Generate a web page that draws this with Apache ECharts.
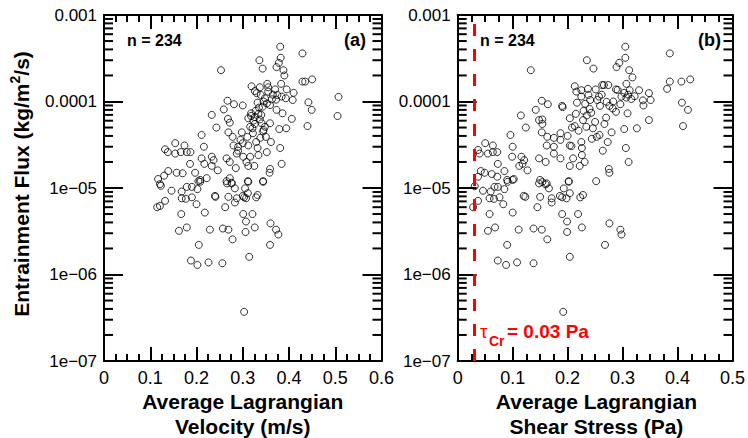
<!DOCTYPE html>
<html><head><meta charset="utf-8">
<script src="https://cdn.jsdelivr.net/npm/echarts@6/dist/echarts.min.js"></script>
<style>html,body{margin:0;padding:0;background:#fff}#c{width:748px;height:438px}</style>
</head><body><div id="c"></div>
<script>
// Panel (a): average Lagrangian velocity (m/s) vs entrainment flux (kg/m2/s)
const velocity = [0.381,0.429,0.382,0.336,0.378,0.343,0.373,0.253,0.388,0.390,0.450,0.429,0.435,0.353,0.383,0.319,0.337,0.355,0.370,0.395,
0.410,0.326,0.339,0.375,0.384,0.393,0.408,0.348,0.363,0.442,0.507,0.267,0.281,0.300,0.332,0.343,0.359,0.373,0.386,0.449,
0.259,0.318,0.334,0.326,0.233,0.268,0.272,0.312,0.406,0.505,0.323,0.341,0.316,0.321,0.243,0.348,0.359,0.379,0.394,0.440,
0.211,0.269,0.278,0.298,0.344,0.350,0.361,0.329,0.295,0.280,0.312,0.290,0.216,0.332,0.381,0.132,0.154,0.174,0.138,0.154,
0.166,0.179,0.187,0.265,0.287,0.301,0.316,0.334,0.352,0.211,0.233,0.237,0.217,0.233,0.246,0.272,0.312,0.325,0.384,0.359,
0.358,0.186,0.139,0.157,0.170,0.130,0.117,0.121,0.197,0.208,0.204,0.222,0.272,0.276,0.265,0.311,0.344,0.123,0.146,0.179,
0.190,0.202,0.208,0.168,0.168,0.177,0.190,0.200,0.115,0.121,0.132,0.240,0.241,0.218,0.167,0.162,0.179,0.205,0.188,0.202,
0.226,0.256,0.229,0.257,0.269,0.278,0.262,0.269,0.283,0.266,0.276,0.300,0.303,0.307,0.283,0.287,0.311,0.305,0.312,0.329,
0.332,0.344,0.301,0.321,0.307,0.326,0.306,0.360,0.372,0.377,0.359,0.314,0.303,
0.330,0.345,0.352,0.335,0.328,0.340,0.318,0.337,0.326,0.345,0.355,0.365,0.372,0.310,0.322,0.300,0.290,0.338,0.308,0.285];
const fluxA = [4.3e-4,3.6e-4,3.2e-4,3.0e-4,2.8e-4,2.4e-4,2.5e-4,2.3e-4,2.3e-4,2.0e-4,1.8e-4,1.7e-4,1.7e-4,1.6e-4,1.6e-4,1.5e-4,1.46e-4,1.46e-4,1.38e-4,1.38e-4,
1.26e-4,1.32e-4,1.19e-4,1.19e-4,1.14e-4,1.09e-4,1.04e-4,1.09e-4,1.06e-4,9.8e-5,1.13e-4,1.02e-4,9.3e-5,9.0e-5,9.7e-5,8.7e-5,9.1e-5,8.0e-5,7.3e-5,8.0e-5,
8.1e-5,7.3e-5,7.2e-5,6.6e-5,7.0e-5,6.3e-5,5.7e-5,6.4e-5,6.3e-5,6.8e-5,6.0e-5,5.6e-5,5.1e-5,4.9e-5,5.0e-5,5.1e-5,5.6e-5,4.8e-5,4.9e-5,5.2e-5,
4.1e-5,4.4e-5,3.9e-5,4.4e-5,4.5e-5,3.9e-5,3.4e-5,3.4e-5,3.6e-5,3.1e-5,3.1e-5,3.0e-5,3.0e-5,2.9e-5,2.9e-5,2.8e-5,3.3e-5,3.1e-5,2.6e-5,2.5e-5,
2.6e-5,2.6e-5,2.6e-5,2.2e-5,2.5e-5,2.3e-5,2.3e-5,2.4e-5,2.6e-5,2.2e-5,2.3e-5,2.1e-5,1.9e-5,1.8e-5,1.6e-5,2.0e-5,1.8e-5,1.8e-5,1.9e-5,1.66e-5,
1.5e-5,1.9e-5,1.57e-5,1.5e-5,1.48e-5,1.39e-5,1.27e-5,1.11e-5,1.5e-5,1.24e-5,1.2e-5,1.3e-5,1.3e-5,1.15e-5,1.2e-5,1.2e-5,1.2e-5,1.06e-5,9.3e-6,1.03e-5,
1.03e-5,9.7e-6,1.18e-5,9.1e-6,7.6e-6,7.5e-6,7.8e-6,6.5e-6,6.0e-6,6.2e-6,7.1e-6,8.1e-6,7.9e-6,5.2e-6,5.0e-6,3.2e-6,3.5e-6,2.2e-6,1.45e-6,1.29e-6,
1.38e-6,1.35e-6,3.3e-6,3.4e-6,3.3e-6,2.55e-6,6.0e-6,7.9e-6,9.9e-6,1.13e-5,1.13e-5,8.1e-6,7.8e-6,7.6e-6,6.8e-6,7.6e-6,8.7e-6,9.9e-6,1.18e-5,7.8e-6,
8.3e-6,1.18e-5,5.0e-6,5.0e-6,4.1e-6,3.5e-6,3.1e-6,3.9e-6,3.3e-6,2.9e-6,2.2e-6,1.6e-6,3.7e-7,
1.25e-4,1.0e-4,9.5e-5,8.5e-5,7.8e-5,7.0e-5,6.8e-5,6.2e-5,5.5e-5,4.7e-5,1.3e-4,1.2e-4,1.05e-4,3.9e-5,4.3e-5,3.3e-5,2.7e-5,3.8e-5,2.0e-5,1.7e-5];

// Panel (b): average Lagrangian shear stress (Pa) vs entrainment flux
const shearStress = [0.305,0.305,0.386,0.235,0.294,0.289,0.247,0.312,0.133,0.318,0.307,0.386,0.407,0.423,0.381,0.213,0.216,0.225,0.237,0.251,
0.263,0.266,0.274,0.288,0.291,0.303,0.313,0.330,0.348,0.225,0.238,0.257,0.298,0.316,0.307,0.337,0.351,0.153,0.164,0.190,
0.191,0.217,0.232,0.241,0.254,0.259,0.271,0.276,0.282,0.288,0.142,0.408,0.419,0.309,0.115,0.229,0.235,0.243,0.148,0.154,
0.154,0.204,0.208,0.213,0.220,0.234,0.246,0.253,0.267,0.303,0.326,0.348,0.410,0.124,0.096,0.153,0.163,0.175,0.187,0.162,
0.175,0.187,0.204,0.207,0.225,0.226,0.264,0.273,0.306,0.100,0.037,0.040,0.050,0.055,0.064,0.064,0.072,0.175,0.187,0.099,
0.116,0.121,0.073,0.112,0.118,0.127,0.148,0.160,0.204,0.210,0.222,0.226,0.231,0.275,0.276,0.311,0.042,0.049,0.062,0.072,
0.085,0.090,0.102,0.037,0.150,0.160,0.154,0.202,0.252,0.031,0.046,0.060,0.067,0.073,0.085,0.058,0.066,0.076,0.037,0.028,
0.083,0.058,0.100,0.055,0.068,0.090,0.073,0.088,0.108,0.138,0.111,0.138,0.153,0.163,0.145,0.120,0.123,0.150,0.166,0.148,
0.162,0.186,0.190,0.198,0.171,0.171,0.193,0.204,0.202,0.223,0.228,0.190,0.219,0.199,0.226,0.199,0.276,0.296,0.298,0.268,
0.204,0.192,0.091,0.100,
0.262,0.283,0.296,0.240,0.228,0.270,0.310,0.322,0.215,0.250,0.280,0.200,0.244,0.258,0.338];
const fluxB = [4.3e-4,3.2e-4,3.6e-4,3.0e-4,2.8e-4,2.5e-4,2.4e-4,2.3e-4,2.3e-4,1.9e-4,1.6e-4,1.7e-4,1.7e-4,1.8e-4,1.4e-4,1.5e-4,1.3e-4,1.35e-4,1.4e-4,1.38e-4,
1.55e-4,1.55e-4,1.55e-4,1.38e-4,1.36e-4,1.26e-4,1.35e-4,1.35e-4,1.25e-4,1.14e-4,1.19e-4,1.14e-4,1.14e-4,1.07e-4,1.11e-4,1.03e-4,1.04e-4,1.02e-4,9.3e-5,8.9e-5,
8.6e-5,9.7e-5,9.4e-5,1.04e-4,1.04e-4,8.9e-5,9.9e-5,8.9e-5,8.3e-5,7.6e-5,8.0e-5,9.7e-5,8.0e-5,7.3e-5,6.9e-5,7.8e-5,6.9e-5,7.4e-5,6.1e-5,6.2e-5,
5.5e-5,6.4e-5,5.0e-5,5.2e-5,4.6e-5,5.1e-5,4.9e-5,3.9e-5,5.5e-5,4.8e-5,4.9e-5,6.1e-5,5.2e-5,5.0e-5,4.1e-5,4.4e-5,3.9e-5,3.8e-5,4.3e-5,3.1e-5,
3.0e-5,3.6e-5,3.1e-5,3.05e-5,3.4e-5,2.9e-5,2.7e-5,3.4e-5,2.9e-5,3.0e-5,2.75e-5,2.5e-5,3.3e-5,2.5e-5,3.1e-5,2.6e-5,2.6e-5,2.5e-5,2.2e-5,2.3e-5,
2.3e-5,2.1e-5,1.9e-5,1.8e-5,1.9e-5,1.6e-5,2.2e-5,2.0e-5,1.8e-5,2.2e-5,1.8e-5,2.4e-5,2.0e-5,1.66e-5,1.5e-5,2.0e-5,1.57e-5,1.5e-5,1.45e-5,1.35e-5,
1.57e-5,1.24e-5,1.27e-5,1.35e-5,1.24e-5,1.1e-5,1.17e-5,1.2e-5,1.2e-5,1.05e-5,9.3e-6,9.1e-6,1.03e-5,1.03e-5,9.7e-6,7.6e-6,7.5e-6,7.8e-6,7.1e-6,6.0e-6,
6.5e-6,5.0e-6,5.2e-6,3.2e-6,3.5e-6,2.2e-6,1.45e-6,1.29e-6,1.38e-6,1.35e-6,3.3e-6,3.4e-6,3.3e-6,2.55e-6,6.0e-6,8.1e-6,7.9e-6,7.9e-6,9.9e-6,1.13e-5,
1.13e-5,8.1e-6,7.8e-6,7.6e-6,7.6e-6,6.8e-6,9.9e-6,8.7e-6,1.18e-5,7.8e-6,8.3e-6,5.0e-6,5.0e-6,4.1e-6,3.5e-6,3.1e-6,3.9e-6,3.3e-6,2.9e-6,2.2e-6,
1.6e-6,3.7e-7,1.18e-5,1.24e-5,
1.2e-4,1.0e-4,9.3e-5,8.2e-5,6.1e-5,6.5e-5,1.2e-4,1.15e-4,7.2e-5,5.8e-5,4.4e-5,4.0e-5,3.7e-5,4.1e-5,9.0e-5];

const yTickLabels = ['1e\u221207','1e\u221206','1e\u221205','0.0001','0.001'];
const xMaxA = 0.6, xMaxB = 0.5;
const yMin = 1e-7, yMax = 1e-3;
const tauCritical = 0.03;
const sampleCount = 234;

const FONT = '"Liberation Sans", Arial, Helvetica, sans-serif';
const TICK = '#000';
const minorTickVals = [];
[-7,-6,-5,-4].forEach(e => [2,3,4,5,6,7,8,9].forEach(m => minorTickVals.push(m * Math.pow(10, e))));

function mkX(grid, max, pos, showLabels) {
  return {type:'value', gridIndex:grid, position:pos, min:0, max:max, interval:0.1,
    axisLine:{show:true, lineStyle:{color:'#000', width:2}},
    axisTick:{show:true, inside:true, length:14, lineStyle:{color:TICK, width:2}},
    minorTick:{show:true, splitNumber:4, length:7, lineStyle:{color:TICK, width:2}},
    axisLabel:{show:showLabels, color:'#000', fontSize:18, fontFamily:FONT, margin:8},
    splitLine:{show:false}};
}
function mkY(grid, pos, showLabels) {
  return {type:'log', gridIndex:grid, position:pos, min:yMin, max:yMax,
    axisLine:{show:true, onZero:false, lineStyle:{color:'#000', width:2}},
    axisTick:{show:true, inside:true, length:19, lineStyle:{color:TICK, width:2}},
    axisLabel:{show:showLabels, color:'#000', fontSize:17, fontFamily:FONT, margin:7,
      formatter: v => yTickLabels[Math.round(Math.log10(v)) + 7]},
    splitLine:{show:false}};
}
function minorSeries(xi, yi, xmax, side) {
  return {type:'custom', xAxisIndex:xi, yAxisIndex:yi, silent:true, clip:false, z:5, progressive:0,
    data: minorTickVals.map(v => [0, v]),
    renderItem: (params, api) => {
      const v = api.value(1);
      const p = api.coord([side > 0 ? 0 : xmax, v]);
      return {type:'line', shape:{x1:p[0], y1:p[1], x2:p[0] + side * 9, y2:p[1]}, style:{stroke:TICK, lineWidth:2}};
    }};
}
const pointStyle = {color:'rgba(0,0,0,0)', borderColor:'#000', borderWidth:1};

const chart = echarts.init(document.getElementById('c'), null, {renderer:'svg'});
chart.setOption({
  animation:false,
  hoverLayerThreshold:Infinity,
  grid:[
    {left:104, top:15, width:277.5, height:346},
    {left:457.7, top:15, width:277.3, height:346}
  ],
  xAxis:[mkX(0, xMaxA, 'bottom', true), mkX(0, xMaxA, 'top', false), mkX(1, xMaxB, 'bottom', true), mkX(1, xMaxB, 'top', false)],
  yAxis:[mkY(0, 'left', true), mkY(0, 'right', false), mkY(1, 'left', true), mkY(1, 'right', false)],
  series:[
    {type:'scatter', xAxisIndex:0, yAxisIndex:0, symbol:'circle', symbolSize:7, itemStyle:pointStyle, progressive:0,
      data: velocity.map((v, i) => [v, fluxA[i]])},
    {type:'scatter', xAxisIndex:2, yAxisIndex:2, symbol:'circle', symbolSize:7, itemStyle:pointStyle, progressive:0,
      data: shearStress.map((v, i) => [v, fluxB[i]]),
      markLine:{silent:true, symbol:'none', label:{show:false},
        lineStyle:{color:'#ff0000', width:3, type:[12,13]},
        data:[{xAxis: tauCritical}]}},
    minorSeries(0, 0, xMaxA, 1),
    minorSeries(0, 1, xMaxA, -1),
    minorSeries(2, 2, xMaxB, 1),
    minorSeries(2, 3, xMaxB, -1)
  ],
  graphic:[
    {type:'text', x:21, y:184, rotation:Math.PI/2, style:{
      text:'{a|Entrainment Flux (kg/m}{s|2}{a|/s)}', align:'center', verticalAlign:'middle',
      rich:{a:{fontSize:21, fontWeight:'bold', fontFamily:FONT, fill:'#000', lineHeight:26},
            s:{fontSize:14, fontWeight:'bold', fontFamily:FONT, fill:'#000', lineHeight:13, verticalAlign:'top'}}}},
    {type:'text', x:242.7, y:389, style:{text:'Average Lagrangian\nVelocity (m/s)', align:'center', verticalAlign:'top',
      fontSize:21, fontWeight:'bold', fontFamily:FONT, fill:'#000', lineHeight:25}},
    {type:'text', x:596.4, y:389, style:{text:'Average Lagrangian\nShear Stress (Pa)', align:'center', verticalAlign:'top',
      fontSize:21, fontWeight:'bold', fontFamily:FONT, fill:'#000', lineHeight:25}},
    {type:'text', x:127, y:40, style:{text:'n = ' + sampleCount, verticalAlign:'middle', fontSize:16, fontWeight:'bold', fontFamily:FONT, fill:'#000'}},
    {type:'text', x:480, y:40, style:{text:'n = ' + sampleCount, verticalAlign:'middle', fontSize:16, fontWeight:'bold', fontFamily:FONT, fill:'#000'}},
    {type:'text', x:366, y:40, style:{text:'(a)', align:'right', verticalAlign:'middle', fontSize:18, fontWeight:'bold', fontFamily:FONT, fill:'#000'}},
    {type:'text', x:721, y:40, style:{text:'(b)', align:'right', verticalAlign:'middle', fontSize:18, fontWeight:'bold', fontFamily:FONT, fill:'#000'}},
    {type:'text', x:480, y:331, style:{text:'\u03c4', verticalAlign:'middle', fontSize:19, fontFamily:FONT, fill:'#ff0000'}},
    {type:'text', x:489, y:341, style:{text:'Cr', verticalAlign:'middle', fontSize:14, fontWeight:'bold', fontFamily:FONT, fill:'#ff0000'}},
    {type:'text', x:507, y:331, style:{text:'= ' + tauCritical.toFixed(2) + ' Pa', verticalAlign:'middle', fontSize:19, fontWeight:'bold', fontFamily:FONT, fill:'#ff0000'}}
  ]
});
</script>
</body></html>
